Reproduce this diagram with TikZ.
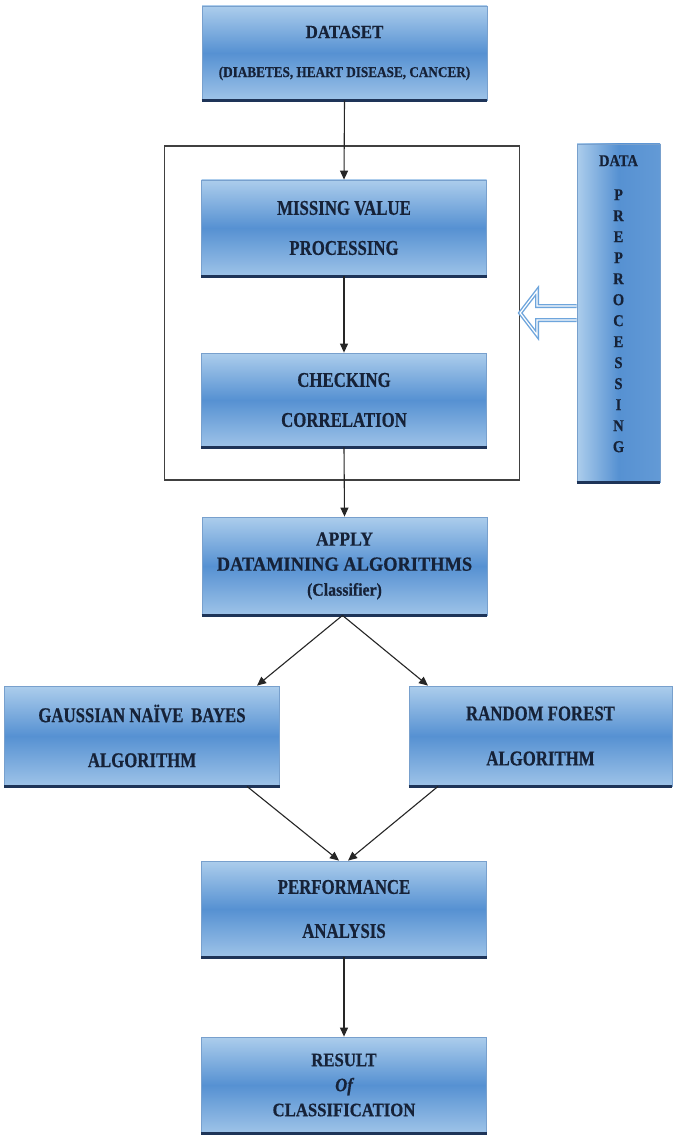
\documentclass[tikz,border=0pt]{standalone}
\usepackage{fontspec}
\setmainfont{Liberation Serif}
\newfontfamily\bxA[FakeStretch=0.8,FakeBold=0.5]{Liberation Serif}
\newfontfamily\bxB[FakeStretch=0.88,FakeBold=0.5]{Liberation Serif}
\newfontfamily\bxC[FakeStretch=0.92,FakeBold=0.5]{Liberation Serif}
\usetikzlibrary{arrows.meta,calc}
\definecolor{navy}{RGB}{22,34,56}
\definecolor{boxtop}{RGB}{172,205,236}
\definecolor{boxmid}{RGB}{86,145,210}
\definecolor{boxbot}{RGB}{158,195,232}
\definecolor{boxedge}{RGB}{120,160,205}
\definecolor{boxshadow}{RGB}{30,52,88}
\definecolor{hollow}{RGB}{110,165,220}
\tikzset{
  flowbox/.style={rectangle, draw=boxedge, line width=0.8pt,
    top color=boxtop, bottom color=boxbot, middle color=boxmid,
    text=navy, align=center, inner sep=0pt,
    font=\bxA\bfseries\fontsize{21}{20}\selectfont},
  prepbox/.style={rectangle, draw=boxedge, line width=0.8pt,
    left color=boxtop, right color=boxmid!85!boxtop, middle color=boxmid,
    inner sep=0pt},
  preptext/.style={text=navy, align=center, inner sep=0pt,
    font=\bxB\bfseries\fontsize{16.5}{21}\selectfont},
  frame/.style={rectangle, draw=black!75, line width=1.3pt, inner sep=0pt},
  arr/.style={draw=black!85, line width=1.1pt, -{Triangle[length=9pt,width=8pt]}},
  shadowline/.style={draw=boxshadow, line width=3pt},
  hollowarrow/.style={draw=hollow, line width=1.4pt, fill=white, double=white, double distance=1.2pt}
}
\begin{document}
\begin{tikzpicture}[x=1pt,y=-1pt]
\useasboundingbox[fill=white] (0,0) rectangle (677,1139);

% frame
\node[frame, minimum width=355pt, minimum height=334pt] (frm) at (342,313) {};

% boxes
\node[flowbox, minimum width=285pt, minimum height=94pt, font=\bxC\bfseries\fontsize{18.5}{20}\selectfont] (ds) at (344.5,53)
  {DATASET\\[19pt]{\bxB\bfseries\fontsize{15}{20}\selectfont (DIABETES, HEART DISEASE, CANCER)}};
\node[flowbox, minimum width=285pt, minimum height=96pt] (mv) at (344,228)
  {MISSING VALUE\\[20pt]PROCESSING};
\node[flowbox, minimum width=285pt, minimum height=94pt] (cc) at (344,400)
  {CHECKING\\[20pt]CORRELATION};
\node[flowbox, minimum width=285pt, minimum height=98pt, font=\bxB\bfseries\fontsize{20}{25}\selectfont] (ap) at (344.5,566)
  {APPLY\\{\bxC\bfseries DATAMINING ALGORITHMS}\\{\fontsize{18}{25}\selectfont (Classifier)}};
\node[flowbox, minimum width=275pt, minimum height=100pt, font=\bxA\bfseries\fontsize{21}{45}\selectfont] (gnb) at (142,736)
  {GAUSSIAN NAÏVE\, BAYES\\ALGORITHM};
\node[flowbox, minimum width=263pt, minimum height=100pt, font=\bxA\bfseries\fontsize{21}{45}\selectfont] (rf) at (540.5,736)
  {RANDOM FOREST\\ALGORITHM};
\node[flowbox, minimum width=285pt, minimum height=96pt, font=\bxA\bfseries\fontsize{21}{44}\selectfont] (pa) at (344,909)
  {PERFORMANCE\\ANALYSIS};
\node[flowbox, minimum width=285pt, minimum height=96pt, font=\bxB\bfseries\fontsize{19}{25}\selectfont] (rs) at (344,1085)
  {RESULT\\{\itshape Of}\\CLASSIFICATION};

% data preprocessing side box
\node[prepbox, minimum width=83pt, minimum height=338pt] (prep) at (618.5,313) {};
\node[preptext, anchor=north] (ptxt) at (618.5,155)
  {DATA\\[13pt]P\\R\\E\\P\\R\\O\\C\\E\\S\\S\\I\\N\\G};

% dark bottom edges
\foreach \n in {ds,mv,cc,ap,gnb,rf,pa,rs,prep}{
  \draw[shadowline] (\n.south west) -- (\n.south east);
}

% hollow arrow from preprocessing to frame
\coordinate (hs1) at (prep.west |- 0,306);
\coordinate (hs2) at (prep.west |- 0,320);
\draw[hollowarrow]
  (hs1) -- (537,306) -- (537,291) -- (frm.east) -- (537,335) -- (537,320) -- (hs2);

% connectors
\coordinate (apout) at ($(ap.south)+(-2,0)$);
\coordinate (gin) at (gnb.north -| 257,0);
\coordinate (rin) at (rf.north -| 428,0);
\coordinate (gout) at (gnb.south -| 247,0);
\coordinate (rout) at (rf.south -| 438,0);
\coordinate (pin1) at (pa.north -| 339,0);
\coordinate (pin2) at (pa.north -| 348,0);
\draw[arr] (ds.south) -- (mv.north);
\draw[arr] (mv.south) -- (cc.north);
\draw[arr] (cc.south) -- (ap.north);
\draw[arr] (apout) -- (gin);
\draw[arr] (apout) -- (rin);
\draw[arr] (gout) -- (pin1);
\draw[arr] (rout) -- (pin2);
\draw[arr] (pa.south) -- (rs.north);
\end{tikzpicture}
\end{document}
